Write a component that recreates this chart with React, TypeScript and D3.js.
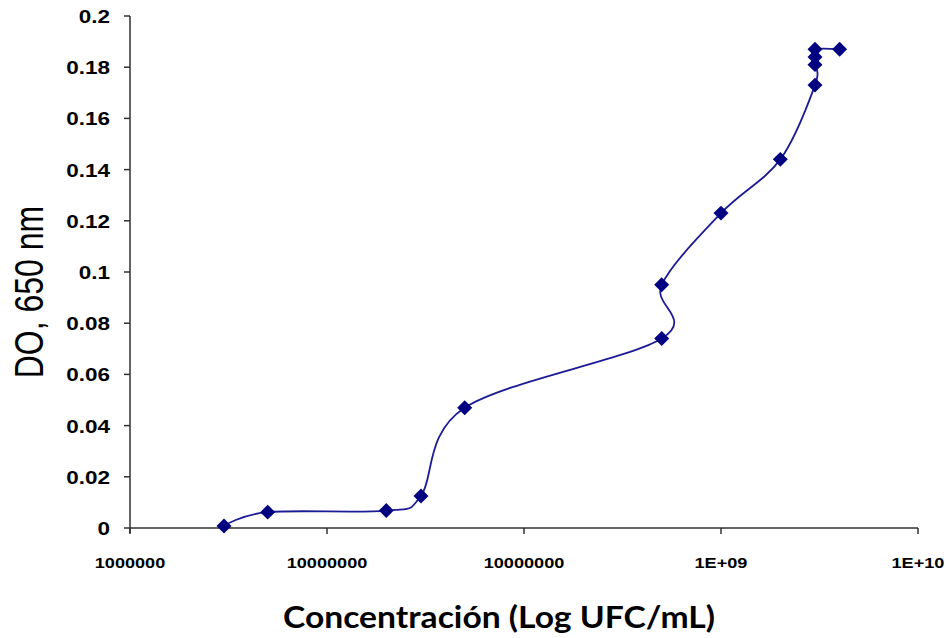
import React from "react";
import * as d3 from "d3";

const concentrations = [3e6, 5e6, 2e7, 3e7, 5e7, 5e8, 5e8, 1e9, 2e9, 3e9, 3e9, 3e9, 3e9, 4e9];
const absorbance = [0.0008, 0.0062, 0.0068, 0.0125, 0.047, 0.074, 0.095, 0.123, 0.144, 0.173, 0.181, 0.184, 0.187, 0.187];
const xTickValues = [1e6, 1e7, 1e8, 1e9, 1e10];
const xTickLabels = ["1000000", "10000000", "10000000", "1E+09", "1E+10"];
const yTickValues = [0, 0.02, 0.04, 0.06, 0.08, 0.1, 0.12, 0.14, 0.16, 0.18, 0.2];
const yTickLabels = ["0", "0.02", "0.04", "0.06", "0.08", "0.1", "0.12", "0.14", "0.16", "0.18", "0.2"];

const W = 949;
const H = 638;
const SX = 1.25;

export default function App() {
  const x = d3.scaleLog().domain([1e6, 1e10]).range([130, 918]);
  const y = d3.scaleLinear().domain([0, 0.2]).range([528, 16]);
  const pts: [number, number][] = concentrations.map((c, i) => [x(c), y(absorbance[i])]);
  const line = d3.line().curve(d3.curveCardinal.tension(0))(pts) || "";
  const diamond = d3.symbol().type(d3.symbolSquare).size(112)() || "";
  const axisColor = "#303030";

  return (
    <svg width={W} height={H} style={{ position: "absolute", left: 0, top: 0, background: "#fff" }}>
      {/* axes */}
      <line x1={130} y1={16} x2={130} y2={533} stroke={axisColor} strokeWidth={1.5} />
      <line x1={130} y1={528} x2={918} y2={528} stroke={axisColor} strokeWidth={1.5} />
      {yTickValues.map((v, i) => (
        <g key={"yt" + i}>
          <line x1={124} x2={130} y1={y(v)} y2={y(v)} stroke={axisColor} strokeWidth={1.5} />
          <text
            transform={`translate(110,${y(v) + 7}) scale(${SX},1)`}
            textAnchor="end"
            fontFamily="Liberation Sans, Arial, sans-serif"
            fontWeight="bold"
            fontSize={18}
            fill="#000"
          >
            {yTickLabels[i]}
          </text>
        </g>
      ))}
      {xTickValues.map((v, i) => (
        <g key={"xt" + i}>
          <line x1={x(v)} x2={x(v)} y1={528} y2={534} stroke={axisColor} strokeWidth={1.5} />
          <text
            transform={`translate(${x(v)},568) scale(${SX},1)`}
            textAnchor="middle"
            fontFamily="Liberation Sans, Arial, sans-serif"
            fontWeight="bold"
            fontSize={14.5}
            fill="#000"
          >
            {xTickLabels[i]}
          </text>
        </g>
      ))}
      {/* series */}
      <path d={line} fill="none" stroke="#1c1c96" strokeWidth={1.8} />
      {pts.map((p, i) => (
        <path key={"m" + i} d={diamond} transform={`translate(${p[0]},${p[1]}) rotate(45)`} fill="#000080" />
      ))}
      {/* axis titles */}
      <text
        transform={`translate(43,292) scale(${SX},1) rotate(-90)`}
        textAnchor="middle"
        fontFamily="Liberation Sans, Arial, sans-serif"
        fontSize={32}
        fill="#000"
      >
        DO, 650 nm
      </text>
      <text
        x={499}
        y={628}
        textAnchor="middle"
        fontFamily="Lato, Open Sans, sans-serif"
        fontWeight="bold"
        fontSize={31}
        textLength={432}
        lengthAdjust="spacingAndGlyphs"
        fill="#000"
      >
        Concentración (Log UFC/mL)
      </text>
    </svg>
  );
}
